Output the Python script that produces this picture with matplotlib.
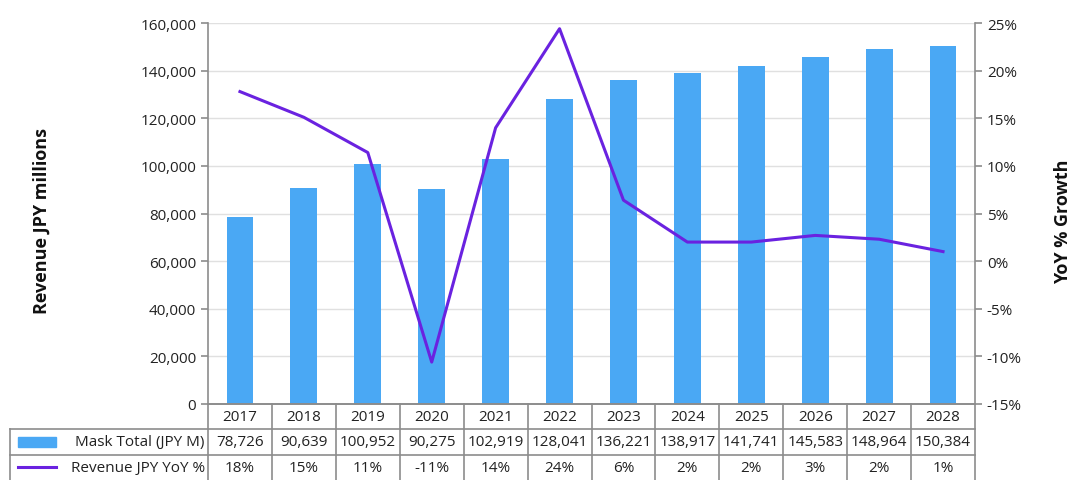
import numpy as np
import matplotlib.pyplot as plt
from matplotlib.patches import Rectangle
from matplotlib.lines import Line2D

plt.rcParams['font.family'] = ['Open Sans', 'DejaVu Sans']

years = ['2017', '2018', '2019', '2020', '2021', '2022', '2023', '2024', '2025', '2026', '2027', '2028']
revenue = [78726, 90639, 100952, 90275, 102919, 128041, 136221, 138917, 141741, 145583, 148964, 150384]
yoy = [17.8, 15.1, 11.4, -10.6, 14.0, 24.4, 6.4, 2.0, 2.0, 2.7, 2.3, 1.0]
yoy_labels = ['18%', '15%', '11%', '-11%', '14%', '24%', '6%', '2%', '2%', '3%', '2%', '1%']

bar_color = '#4aa8f4'
line_color = '#6a22e0'
axis_gray = '#8c8c8c'
grid_gray = '#e0e0e0'

W, H = 1074, 481
fig = plt.figure(figsize=(W / 100, H / 100), dpi=100)

x0, x1, y0, y1 = 208, 975, 24, 405
ax = fig.add_axes([x0 / W, 1 - y1 / H, (x1 - x0) / W, (y1 - y0) / H])
x = np.arange(len(years))
ax.bar(x, revenue, width=0.42, color=bar_color, zorder=2)
ax.set_xlim(-0.5, len(years) - 0.5)
ax.set_ylim(0, 160000)
ax.set_yticks(np.arange(0, 160001, 20000))
ax.set_yticklabels([f'{v:,}' for v in range(0, 160001, 20000)])
ax.set_xticks([])
ax.grid(axis='y', color=grid_gray, lw=1, zorder=0)
ax.set_axisbelow(True)
for s in ['top', 'right']:
    ax.spines[s].set_visible(False)
for s in ['left', 'bottom']:
    ax.spines[s].set_color(axis_gray)
    ax.spines[s].set_linewidth(1.2)
ax.tick_params(axis='y', colors=axis_gray, labelcolor='#222222', labelsize=11, length=5, width=1.2)

ax2 = ax.twinx()
ax2.plot(x, yoy, color=line_color, lw=2.2, zorder=3)
ax2.set_ylim(-15, 25)
ax2.set_yticks(np.arange(-15, 26, 5))
ax2.set_yticklabels([f'{v}%' for v in range(-15, 26, 5)])
for s in ['top', 'left', 'bottom']:
    ax2.spines[s].set_visible(False)
ax2.spines['right'].set_color(axis_gray)
ax2.spines['right'].set_linewidth(1.2)
ax2.tick_params(axis='y', colors=axis_gray, labelcolor='#222222', labelsize=11, length=5, width=1.2)

# axis titles
fig.text(42 / W, 1 - 221 / H, 'Revenue JPY millions', rotation=90, ha='center', va='center',
         fontsize=13, fontweight='bold', color='#111111')
fig.text(1063 / W, 1 - 222 / H, 'YoY % Growth', rotation=90, ha='center', va='center',
         fontsize=13, fontweight='bold', color='#111111')

# data table below the plot
tx0 = 10
col_w = (x1 - x0) / len(years)
lab_w = (x0 - tx0) / col_w
tab = fig.add_axes([tx0 / W, 0, (x1 - tx0) / W, (H - y1) / H])
tab.set_xlim(-0.5 - lab_w, len(years) - 0.5)
tab.set_ylim(3.0, 0)
tab.axis('off')
kw = dict(color=axis_gray, lw=1.2, clip_on=False)
# horizontal lines
tab.plot([-0.5, len(years) - 0.5], [0, 0], **kw)
tab.plot([-0.5 - lab_w, len(years) - 0.5], [1, 1], **kw)
tab.plot([-0.5 - lab_w, len(years) - 0.5], [2, 2], **kw)
# vertical lines
for i in range(len(years) + 1):
    tab.plot([i - 0.5, i - 0.5], [0, 3.05], **kw)
tab.plot([-0.5 - lab_w, -0.5 - lab_w], [1, 3.05], **kw)

fs = 11
for i in range(len(years)):
    tab.text(i, 0.5, years[i], ha='center', va='center', fontsize=fs, color='#222222')
    tab.text(i, 1.5, f'{revenue[i]:,}', ha='center', va='center', fontsize=fs, color='#222222')
    tab.text(i, 2.5, yoy_labels[i], ha='center', va='center', fontsize=fs, color='#222222')

# legend keys in the row labels
lx = -0.5 - lab_w
tab.add_patch(Rectangle((lx + 0.12, 1.32), 0.6, 0.36, color=bar_color, clip_on=False))
tab.add_line(Line2D([lx + 0.12, lx + 0.72], [2.5, 2.5], color=line_color, lw=2.2, clip_on=False))
tab.text(-0.55, 1.5, 'Mask Total (JPY M)', ha='right', va='center', fontsize=fs, color='#222222')
tab.text(-0.55, 2.5, 'Revenue JPY YoY %', ha='right', va='center', fontsize=fs, color='#222222')

fig.savefig('out.png', dpi=100)
